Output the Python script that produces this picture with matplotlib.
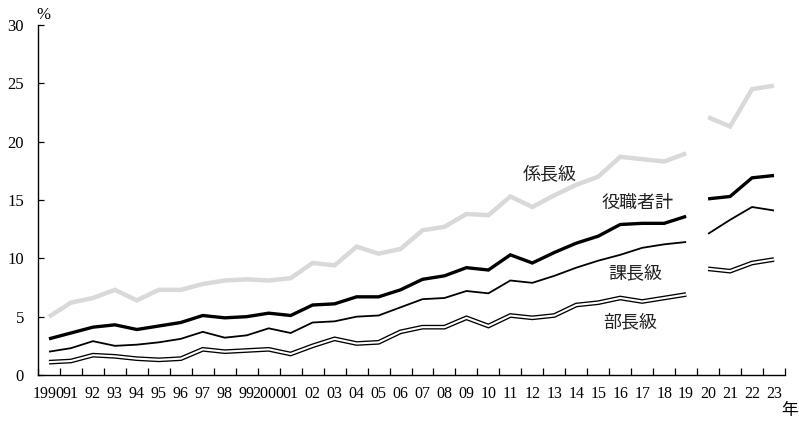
import numpy as np
import matplotlib.pyplot as plt

plt.rcParams['font.family'] = ['Liberation Serif', 'Noto Sans CJK JP']

# Data (%), 1990-2019 and 2020-2023 shown as separate segments
years = list(range(1990, 2024))
tick_labels = ['1990'] + [f'{y % 100:02d}' for y in range(1991, 2000)] + ['2000'] + \
              [f'{y % 100:02d}' for y in range(2001, 2024)]

kakaricho = [5.0, 6.2, 6.6, 7.3, 6.4, 7.3, 7.3, 7.8, 8.1, 8.2,
             8.1, 8.3, 9.6, 9.4, 11.0, 10.4, 10.8, 12.4, 12.7, 13.8,
             13.7, 15.3, 14.4, 15.4, 16.3, 17.0, 18.7, 18.5, 18.3, 19.0,
             22.1, 21.3, 24.5, 24.8]
yakushoku = [3.1, 3.6, 4.1, 4.3, 3.9, 4.2, 4.5, 5.1, 4.9, 5.0,
             5.3, 5.1, 6.0, 6.1, 6.7, 6.7, 7.3, 8.2, 8.5, 9.2,
             9.0, 10.3, 9.6, 10.5, 11.3, 11.9, 12.9, 13.0, 13.0, 13.6,
             15.1, 15.3, 16.9, 17.1]
kacho = [2.0, 2.3, 2.9, 2.5, 2.6, 2.8, 3.1, 3.7, 3.2, 3.4,
         4.0, 3.6, 4.5, 4.6, 5.0, 5.1, 5.8, 6.5, 6.6, 7.2,
         7.0, 8.1, 7.9, 8.5, 9.2, 9.8, 10.3, 10.9, 11.2, 11.4,
         12.1, 13.3, 14.4, 14.1]
bucho = [1.1, 1.2, 1.7, 1.6, 1.4, 1.3, 1.4, 2.2, 2.0, 2.1,
         2.2, 1.8, 2.5, 3.1, 2.7, 2.8, 3.7, 4.1, 4.1, 4.9,
         4.2, 5.1, 4.9, 5.1, 6.0, 6.2, 6.6, 6.3, 6.6, 6.9,
         9.1, 8.9, 9.6, 9.9]

x = np.arange(len(years))
split = years.index(2020)

fig = plt.figure(figsize=(7.99, 4.21), dpi=100)
ax = fig.add_axes([38 / 799, 46 / 421, 747 / 799, 350 / 421])


def draw(vals, **kw):
    v = np.array(vals, dtype=float)
    for seg in (slice(0, split), slice(split, None)):
        ax.plot(x[seg], v[seg], solid_joinstyle='miter', solid_capstyle='butt', **kw)


draw(kakaricho, color='#d9d9d9', lw=3.2)
draw(yakushoku, color='black', lw=2.4)
draw(kacho, color='black', lw=1.3)
draw(bucho, color='black', lw=3.4)
draw(bucho, color='white', lw=1.5)

ax.set_xlim(-0.5, len(years) - 0.5)
ax.set_ylim(0, 30)
ax.set_yticks([0, 5, 10, 15, 20, 25, 30])
ax.set_xticks(x)
ax.set_xticklabels(tick_labels)
ax.set_xticks(np.arange(-0.5, len(years), 1.0), minor=True)
ax.tick_params(axis='x', which='major', length=0, labelsize=11.5, pad=8)
ax.tick_params(axis='x', which='minor', direction='in', length=5, width=0.9)
ax.tick_params(axis='y', direction='in', length=4, width=0.9, labelsize=12, pad=10)
for s in ['top', 'right']:
    ax.spines[s].set_visible(False)
for s in ['left', 'bottom']:
    ax.spines[s].set_linewidth(1.0)

lab = dict(fontsize=13, ha='center', va='center', color='#222222')
ax.text(22.8, 17.2, '係長級', **lab)
ax.text(26.8, 14.7, '役職者計', **lab)
ax.text(26.7, 8.65, '課長級', **lab)
ax.text(26.45, 4.45, '部長級', **lab)

fig.text(43 / 799, 1 - 15 / 421, '%', fontsize=12, ha='center', va='center')
fig.text(790 / 799, 1 - 411 / 421, '年', fontsize=12, ha='center', va='center')

fig.savefig('out.png', dpi=100)
